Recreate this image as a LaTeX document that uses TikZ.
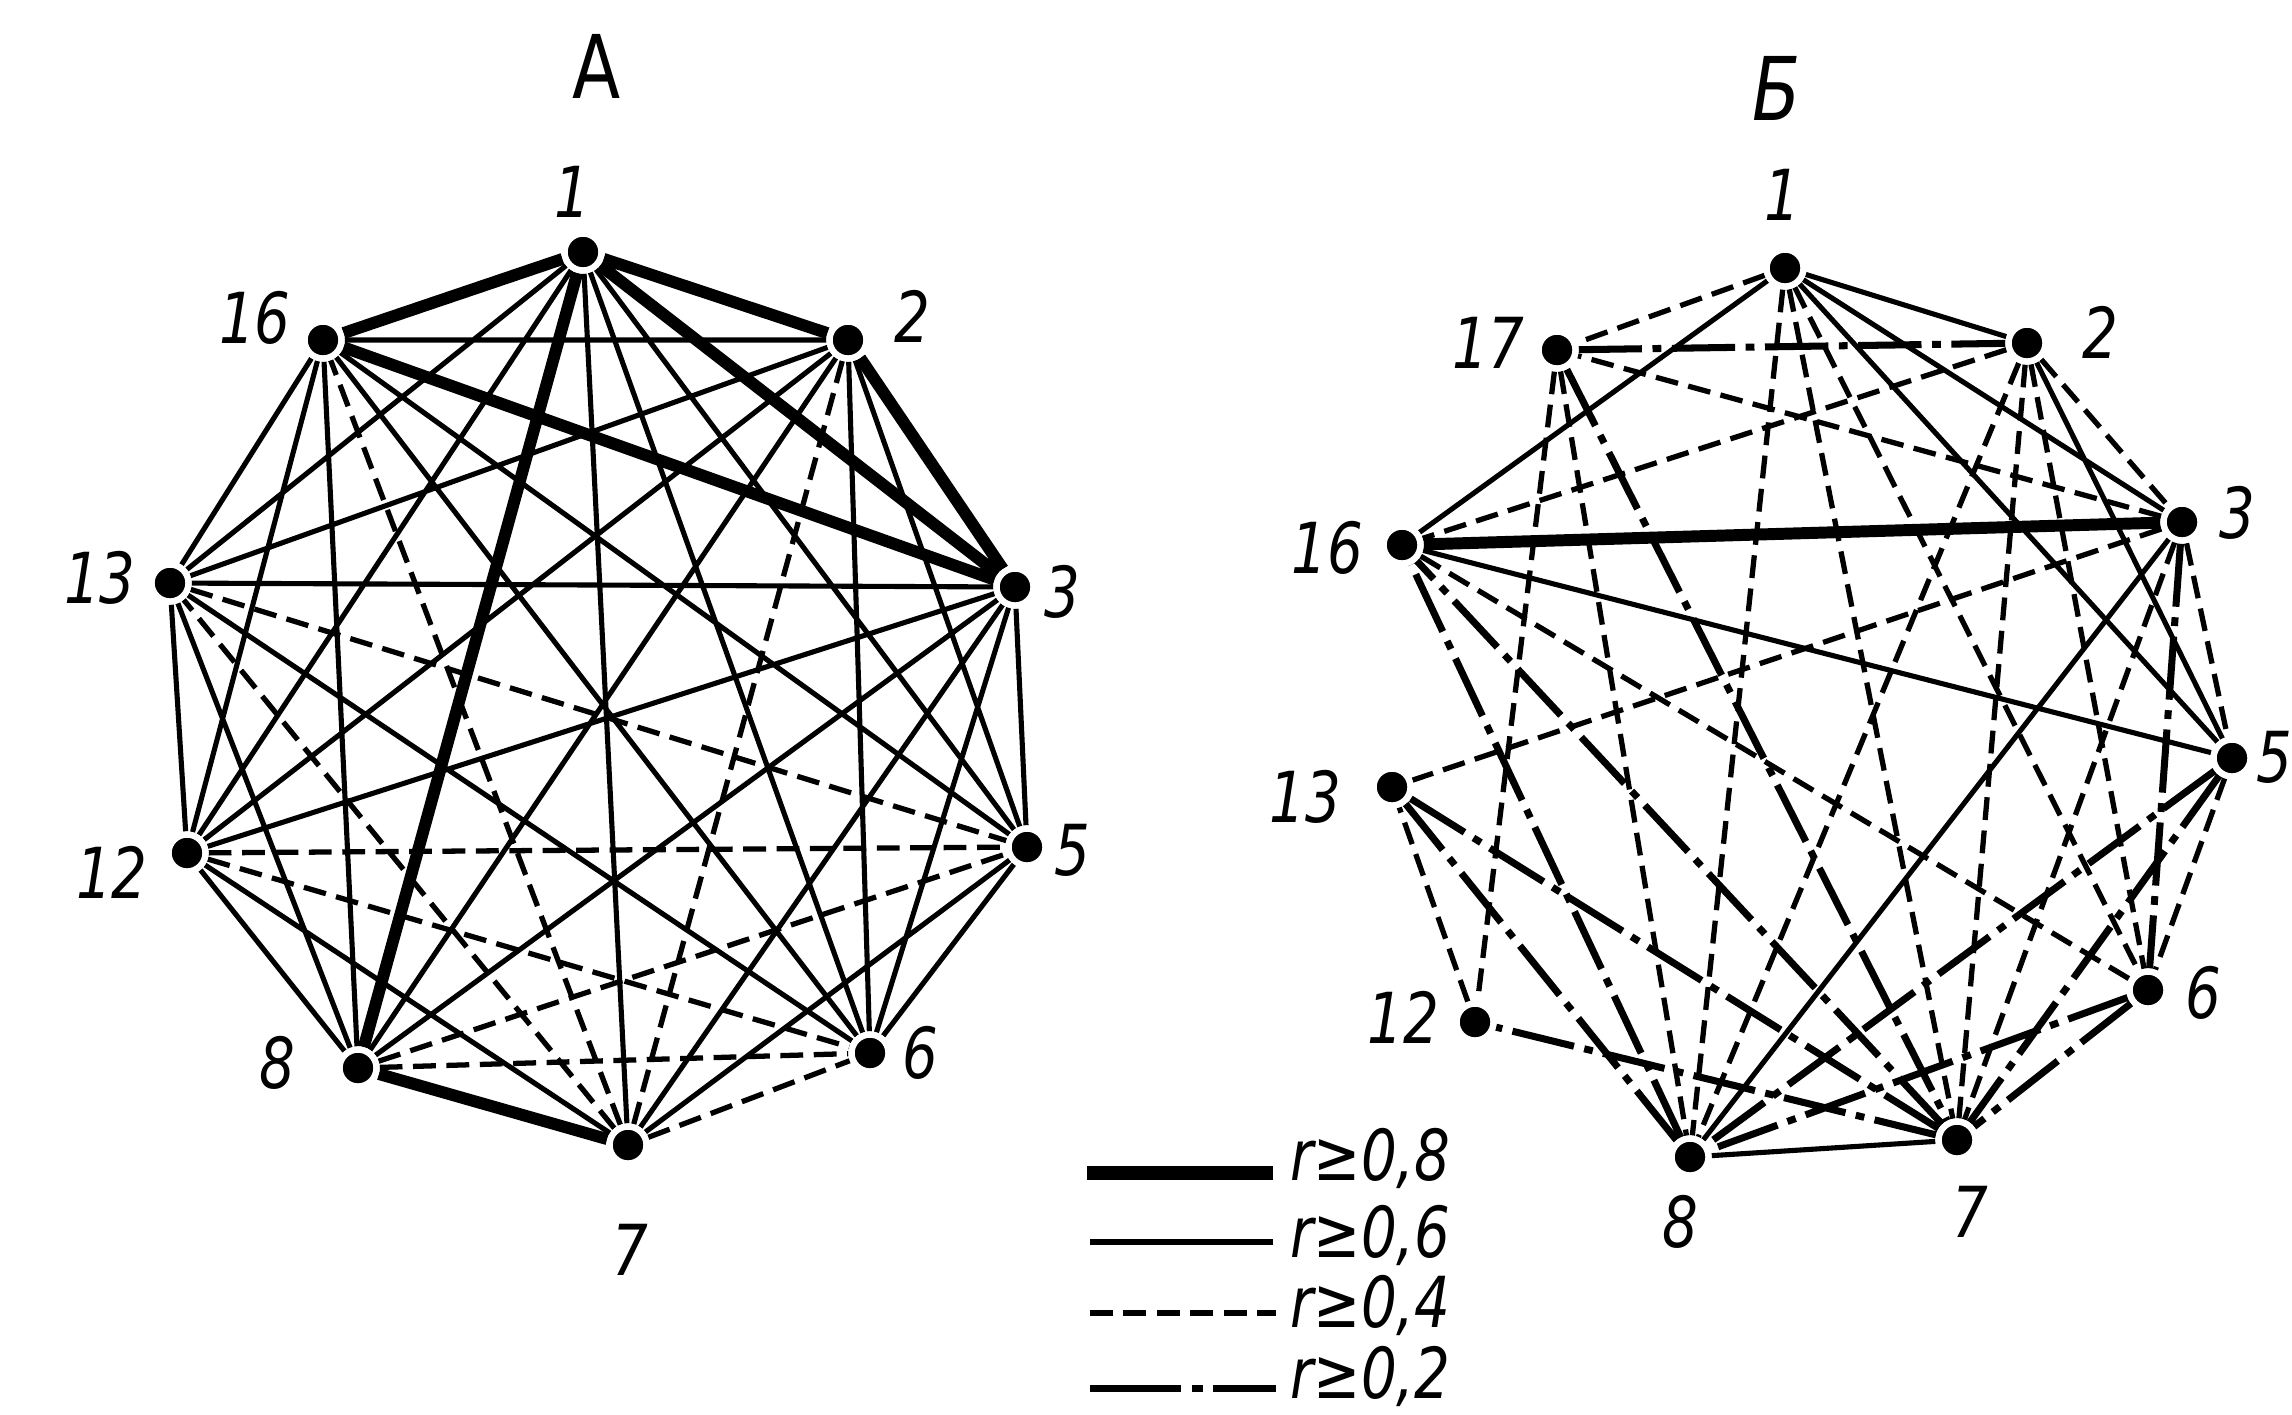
\documentclass[tikz,border=0pt]{standalone}
\usepackage{fontspec}
\newfontfamily\tagfont{DejaVu Sans}[FakeStretch=0.8]
\usetikzlibrary{backgrounds}

\tikzset{
    vert/.style={circle, fill=black, draw=white, line width=1.8pt, inner sep=0pt, minimum size=10.5pt},
    tag/.style={font=\tagfont\itshape\fontsize{20}{24}\selectfont, inner sep=0pt},
    ttl/.style={font=\tagfont\fontsize{25}{30}\selectfont, inner sep=0pt},
    strong/.style={line width=3.4pt},
    mid/.style={line width=1.45pt},
    weak/.style={line width=1.5pt, dash pattern=on 6.5pt off 3pt},
    faint/.style={line width=2pt, dash pattern=on 18pt off 3pt on 2.5pt off 3pt}
}

\begin{document}
\begin{tikzpicture}[x=0.01cm, y=-0.01cm]
        \useasboundingbox (0,0) rectangle (2292,1414);
        % Graph A.
            \node[vert] (a1) at (583,252) {};
            \node[vert] (a2) at (848,340) {};
            \node[vert] (a3) at (1015,587) {};
            \node[vert] (a5) at (1027,847) {};
            \node[vert] (a6) at (870,1053) {};
            \node[vert] (a7) at (628,1145) {};
            \node[vert] (a8) at (358,1068) {};
            \node[vert] (a12) at (187,853) {};
            \node[vert] (a13) at (170,583) {};
            \node[vert] (a16) at (323,340) {};
        % Graph B.
            \node[vert] (b1) at (1785,268) {};
            \node[vert] (b2) at (2027,343) {};
            \node[vert] (b3) at (2182,522) {};
            \node[vert] (b5) at (2232,758) {};
            \node[vert] (b6) at (2148,990) {};
            \node[vert] (b7) at (1957,1140) {};
            \node[vert] (b8) at (1690,1157) {};
            \node[vert] (b12) at (1475,1022) {};
            \node[vert] (b13) at (1392,787) {};
            \node[vert] (b16) at (1402,545) {};
            \node[vert] (b17) at (1557,350) {};
        % Below nodes are the labels.
            \node[ttl] (ha) at (597,66) {А};
            \node[ttl, font=\tagfont\itshape\fontsize{25}{30}\selectfont] (hb) at (1777,88) {Б};
            \node[tag] (la1) at (572,192) {1};
            \node[tag] (la2) at (912,316) {2};
            \node[tag] (la3) at (1062,592) {3};
            \node[tag] (la5) at (1072,850) {5};
            \node[tag] (la6) at (920,1053) {6};
            \node[tag] (la7) at (630,1250) {7};
            \node[tag] (la8) at (277,1063) {8};
            \node[tag] (la12) at (112,872) {12};
            \node[tag] (la13) at (100,578) {13};
            \node[tag] (la16) at (255,318) {16};
            \node[tag] (lb1) at (1782,195) {1};
            \node[tag] (lb2) at (2100,332) {2};
            \node[tag] (lb3) at (2237,513) {3};
            \node[tag] (lb5) at (2274,757) {5};
            \node[tag] (lb6) at (2203,993) {6};
            \node[tag] (lb7) at (1970,1212) {7};
            \node[tag] (lb8) at (1680,1222) {8};
            \node[tag] (lb12) at (1403,1017) {12};
            \node[tag] (lb13) at (1305,797) {13};
            \node[tag] (lb16) at (1327,548) {16};
            \node[tag] (lb17) at (1488,343) {17};
        % The key.
            \node[tag, anchor=west] (k8) at (1290,1158) {r≥0,8};
            \node[tag, anchor=west] (k6) at (1290,1235) {r≥0,6};
            \node[tag, anchor=west] (k4) at (1290,1305) {r≥0,4};
            \node[tag, anchor=west] (k2) at (1290,1376) {r≥0,2};
            \coordinate (s8) at (1087,1173);
            \coordinate (s6) at (1090,1242);
            \coordinate (s4) at (1090,1313);
            \coordinate (s2) at (1090,1388);
            \draw[strong, line width=4pt] (s8) -- ++(186,0);
            \draw[mid] (s6) -- ++(183,0);
            \draw[weak] (s4) -- ++(186,0);
            \draw[faint, dash pattern=on 26pt off 3pt on 3pt off 3pt] (s2) -- ++(186,0);
        % The edges go under the dots.
        \begin{pgfonlayer}{background}
            \draw[strong] (a1) -- (a16) (a1) -- (a2) (a1) -- (a3) (a1) -- (a8)
                (a16) -- (a3) (a2) -- (a3) (a8) -- (a7);
            \draw[weak] (a12) -- (a5) (a13) -- (a5) (a8) -- (a5) (a12) -- (a6)
                (a8) -- (a6) (a7) -- (a6) (a7) -- (a2) (a7) -- (a13) (a7) -- (a16);
            \draw[mid] (a1) -- (a5) (a1) -- (a6) (a1) -- (a7) (a1) -- (a12) (a1) -- (a13)
                (a2) -- (a5) (a2) -- (a6) (a2) -- (a8) (a2) -- (a12) (a2) -- (a13) (a2) -- (a16)
                (a3) -- (a5) (a3) -- (a6) (a3) -- (a7) (a3) -- (a8) (a3) -- (a12) (a3) -- (a13)
                (a5) -- (a6) (a5) -- (a7) (a5) -- (a16)
                (a6) -- (a13) (a6) -- (a16)
                (a7) -- (a12)
                (a8) -- (a12) (a8) -- (a13) (a8) -- (a16)
                (a12) -- (a13) (a12) -- (a16)
                (a13) -- (a16);
            \draw[strong] (b16) -- (b3);
            \draw[mid] (b1) -- (b2) (b1) -- (b16) (b1) -- (b3) (b1) -- (b5)
                (b2) -- (b5) (b16) -- (b5) (b3) -- (b8) (b8) -- (b7);
            \draw[weak] (b1) -- (b17) (b1) -- (b6) (b1) -- (b7) (b1) -- (b8)
                (b2) -- (b3) (b2) -- (b6) (b2) -- (b7) (b2) -- (b8) (b2) -- (b16)
                (b3) -- (b17) (b3) -- (b13) (b3) -- (b5) (b3) -- (b7)
                (b5) -- (b6) (b16) -- (b6) (b17) -- (b12) (b17) -- (b8) (b12) -- (b13);
            \draw[faint] (b17) -- (b2) (b17) -- (b7) (b3) -- (b6) (b5) -- (b7) (b5) -- (b8)
                (b6) -- (b7) (b6) -- (b8) (b7) -- (b12) (b7) -- (b13) (b7) -- (b16)
                (b8) -- (b13) (b8) -- (b16);
        \end{pgfonlayer}
    \end{tikzpicture}
\end{document}
